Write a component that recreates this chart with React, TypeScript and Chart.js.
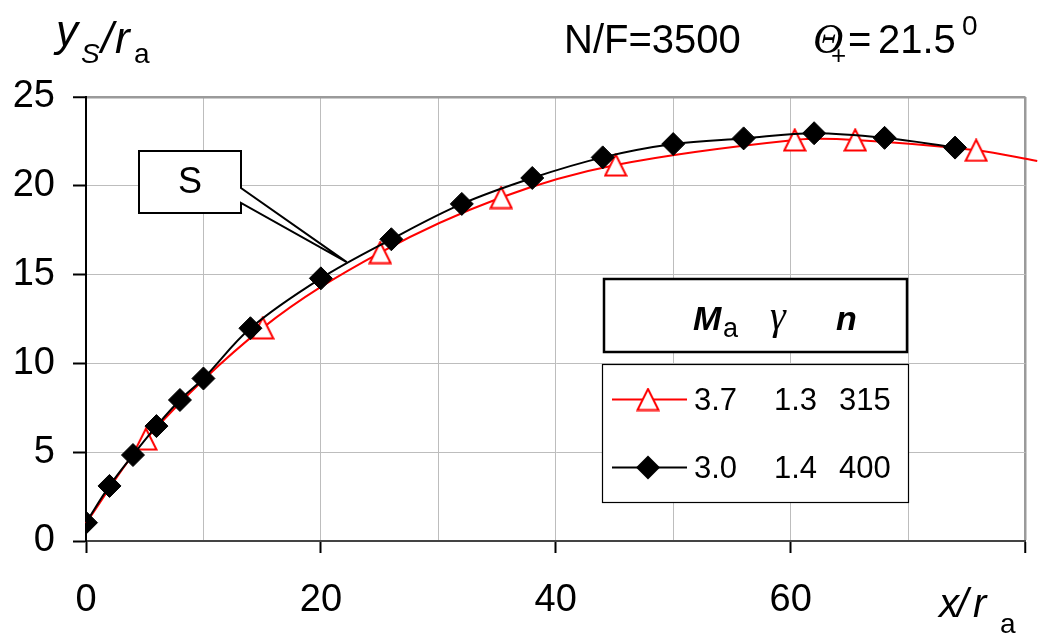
import React, { useEffect, useRef } from 'react';
import { Chart, registerables } from 'chart.js';

Chart.register(...registerables);

// ---- data ----
const blackX = [0, 2, 4, 6, 8, 10, 14, 20, 26, 32, 38, 44, 50, 56, 62, 68, 74];
const blackY = [1.03, 3.1, 4.84, 6.47, 7.94, 9.15, 11.98, 14.79, 16.99, 18.98, 20.44, 21.6, 22.35, 22.67, 22.96, 22.7, 22.15];

const redX = [0, 5.1, 15.05, 25.05, 35.35, 45.1, 60.35, 65.5, 75.8, 81];
const redY = [1.0, 5.74, 12.0, 16.24, 19.34, 21.17, 22.58, 22.58, 22.0, 21.4];
const redHasMarker = [false, true, true, true, true, true, true, true, true, false];

const xLabelTicks = [0, 20, 40, 60];
const legendHeader = ['M', 'γ', 'n'];
const legendRed = ['3.7', '1.3', '315'];
const legendBlack = ['3.0', '1.4', '400'];

const SANS = '"Liberation Sans", Arial, sans-serif';
const SERIF = '"Liberation Serif", "Times New Roman", serif';

function makeTriangle(): HTMLCanvasElement {
  const c = document.createElement('canvas');
  c.width = 24;
  c.height = 24;
  const g = c.getContext('2d') as CanvasRenderingContext2D;
  g.beginPath();
  g.moveTo(12, 1.5);
  g.lineTo(22.5, 22.5);
  g.lineTo(1.5, 22.5);
  g.closePath();
  g.fillStyle = '#ffffff';
  g.fill();
  g.strokeStyle = '#ff0000';
  g.lineWidth = 2;
  g.stroke();
  return c;
}

function text(ctx: CanvasRenderingContext2D, s: string, x: number, y: number, font: string, align: CanvasTextAlign = 'left') {
  ctx.font = font;
  ctx.textAlign = align;
  ctx.textBaseline = 'alphabetic';
  ctx.fillStyle = '#000';
  ctx.fillText(s, x, y);
}

export default function App() {
  const ref = useRef<HTMLCanvasElement | null>(null);

  useEffect(() => {
    if (!ref.current) return;
    const tri = makeTriangle();

    const overlay = {
      id: 'overlay',
      afterDraw(chart: any) {
        const ctx = chart.ctx as CanvasRenderingContext2D;
        const xs = chart.scales.x;
        const ys = chart.scales.y;
        ctx.save();

        // axis title y_S / r_a
        text(ctx, 'y', 56, 46, `italic 44px ${SANS}`);
        text(ctx, 'S', 81, 63, `italic 28px ${SANS}`);
        text(ctx, '/', 101, 53, `italic 44px ${SANS}`);
        text(ctx, 'r', 115, 53, `italic 44px ${SANS}`);
        text(ctx, 'a', 134, 63, `28px ${SANS}`);

        // axis title x / r_a
        text(ctx, 'x', 939, 617, `italic 40px ${SANS}`);
        text(ctx, '/', 957, 617, `italic 40px ${SANS}`);
        text(ctx, 'r', 973, 617, `italic 40px ${SANS}`);
        text(ctx, 'a', 1000, 633, `28px ${SANS}`);

        // top annotation
        text(ctx, 'N/F=3500', 564, 53, `40px ${SANS}`);
        text(ctx, 'Θ', 813, 53, `italic 42px ${SERIF}`);
        text(ctx, '+', 831, 64, `26px ${SANS}`);
        text(ctx, '=', 848, 53, `40px ${SANS}`);
        text(ctx, '21.5', 878, 53, `40px ${SANS}`);
        text(ctx, '0', 962, 35, `28px ${SANS}`);

        // callout "S"
        const tipX = xs.getPixelForValue(22.2);
        const tipY = ys.getPixelForValue(15.7);
        ctx.beginPath();
        ctx.moveTo(139, 151);
        ctx.lineTo(241, 151);
        ctx.lineTo(241, 188);
        ctx.lineTo(tipX, tipY);
        ctx.lineTo(241, 203);
        ctx.lineTo(241, 213);
        ctx.lineTo(139, 213);
        ctx.closePath();
        ctx.fillStyle = '#fff';
        ctx.fill();
        ctx.strokeStyle = '#000';
        ctx.lineWidth = 2;
        ctx.lineJoin = 'miter';
        ctx.stroke();
        text(ctx, 'S', 190, 193, `36px ${SANS}`, 'center');

        // legend header box
        ctx.fillStyle = '#fff';
        ctx.fillRect(604, 279, 303, 73);
        ctx.strokeStyle = '#000';
        ctx.lineWidth = 2.5;
        ctx.strokeRect(604, 279, 303, 73);
        text(ctx, legendHeader[0], 693, 330, `italic bold 34px ${SANS}`);
        text(ctx, 'a', 723, 337, `27px ${SANS}`);
        text(ctx, legendHeader[1], 770, 329, `italic 40px ${SERIF}`);
        text(ctx, legendHeader[2], 836, 330, `italic bold 34px ${SANS}`);

        // legend rows box
        ctx.fillStyle = '#fff';
        ctx.fillRect(602.5, 364.5, 306, 138);
        ctx.strokeStyle = '#000';
        ctx.lineWidth = 1.2;
        ctx.strokeRect(602.5, 364.5, 306, 138);

        // row 1 (red triangles)
        ctx.beginPath();
        ctx.moveTo(612, 399.5);
        ctx.lineTo(687, 399.5);
        ctx.strokeStyle = '#ff0000';
        ctx.lineWidth = 2;
        ctx.stroke();
        ctx.drawImage(tri, 648 - 12, 399.5 - 12);
        text(ctx, legendRed[0], 694, 410, `31px ${SANS}`);
        text(ctx, legendRed[1], 774, 410, `31px ${SANS}`);
        text(ctx, legendRed[2], 839, 410, `31px ${SANS}`);

        // row 2 (black diamonds)
        ctx.beginPath();
        ctx.moveTo(612, 467.5);
        ctx.lineTo(687, 467.5);
        ctx.strokeStyle = '#000';
        ctx.lineWidth = 2;
        ctx.stroke();
        ctx.beginPath();
        ctx.moveTo(648 - 12, 467.5);
        ctx.lineTo(648, 467.5 - 12);
        ctx.lineTo(648 + 12, 467.5);
        ctx.lineTo(648, 467.5 + 12);
        ctx.closePath();
        ctx.fillStyle = '#000';
        ctx.fill();
        text(ctx, legendBlack[0], 694, 478, `31px ${SANS}`);
        text(ctx, legendBlack[1], 774, 478, `31px ${SANS}`);
        text(ctx, legendBlack[2], 839, 478, `31px ${SANS}`);

        ctx.restore();
      },
    };

    const chart = new Chart(ref.current, {
      type: 'line',
      data: {
        datasets: [
          {
            label: '3.0 1.4 400',
            data: blackX.map((x, i) => ({ x, y: blackY[i] })),
            borderColor: '#000000',
            backgroundColor: '#000000',
            borderWidth: 2,
            pointStyle: 'rectRot',
            pointRadius: 11.5,
            pointBorderWidth: 1,
            pointBackgroundColor: '#000000',
            pointBorderColor: '#000000',
            tension: 0.35,
            fill: false,
          },
          {
            label: '3.7 1.3 315',
            data: redX.map((x, i) => ({ x, y: redY[i] })),
            borderColor: '#ff0000',
            backgroundColor: '#ffffff',
            borderWidth: 2,
            pointStyle: tri as any,
            pointRadius: redHasMarker.map((m) => (m ? 12 : 0)),
            tension: 0.35,
            fill: false,
            clip: false as any,
          },
        ],
      },
      options: {
        animation: false,
        responsive: false,
        maintainAspectRatio: false,
        devicePixelRatio: 1,
        layout: { padding: { left: 0, right: 7, top: 97, bottom: 0 } },
        plugins: {
          legend: { display: false },
          tooltip: { enabled: false },
          title: { display: false },
        },
        scales: {
          x: {
            type: 'linear',
            min: 0,
            max: 80,
            ticks: {
              stepSize: 10,
              padding: 25,
              color: '#000',
              maxRotation: 0,
              autoSkip: false,
              font: { family: SANS, size: 38 },
              callback: (v: any) => (xLabelTicks.includes(Number(v)) ? String(v) : ''),
            },
            grid: {
              color: (c: any) => (c.tick && c.tick.value === 80 ? '#9a9a9a' : '#bdbdbd'),
              lineWidth: (c: any) => (c.tick && c.tick.value === 80 ? 2.5 : 1),
              tickLength: 12,
              tickColor: (c: any) => (c.tick && c.tick.value % 20 === 0 ? '#000' : 'rgba(0,0,0,0)'),
              tickWidth: 2,
            },
            border: { display: true, color: '#444', width: 2 },
            afterFit: (s: any) => {
              s.height = 96;
              s.paddingLeft = 0;
              s.paddingRight = 0;
            },
          },
          y: {
            type: 'linear',
            min: 0,
            max: 25,
            ticks: {
              stepSize: 5,
              padding: 18,
              color: '#000',
              font: { family: SANS, size: 38 },
            },
            grid: {
              color: (c: any) => (c.tick && c.tick.value === 25 ? '#9a9a9a' : '#bdbdbd'),
              lineWidth: (c: any) => (c.tick && c.tick.value === 25 ? 2.5 : 1),
              tickLength: 13,
              tickColor: '#000',
              tickWidth: 2,
            },
            border: { display: true, color: '#000', width: 2 },
            afterFit: (s: any) => {
              s.width = 86;
              s.paddingTop = 0;
              s.paddingBottom = 0;
            },
          },
        },
      } as any,
      plugins: [overlay],
    });

    return () => chart.destroy();
  }, []);

  return (
    <div style={{ position: 'fixed', left: 0, top: 0, width: 1038, height: 637, background: '#fff' }}>
      <canvas ref={ref} width={1038} height={637} style={{ display: 'block' }} />
    </div>
  );
}
